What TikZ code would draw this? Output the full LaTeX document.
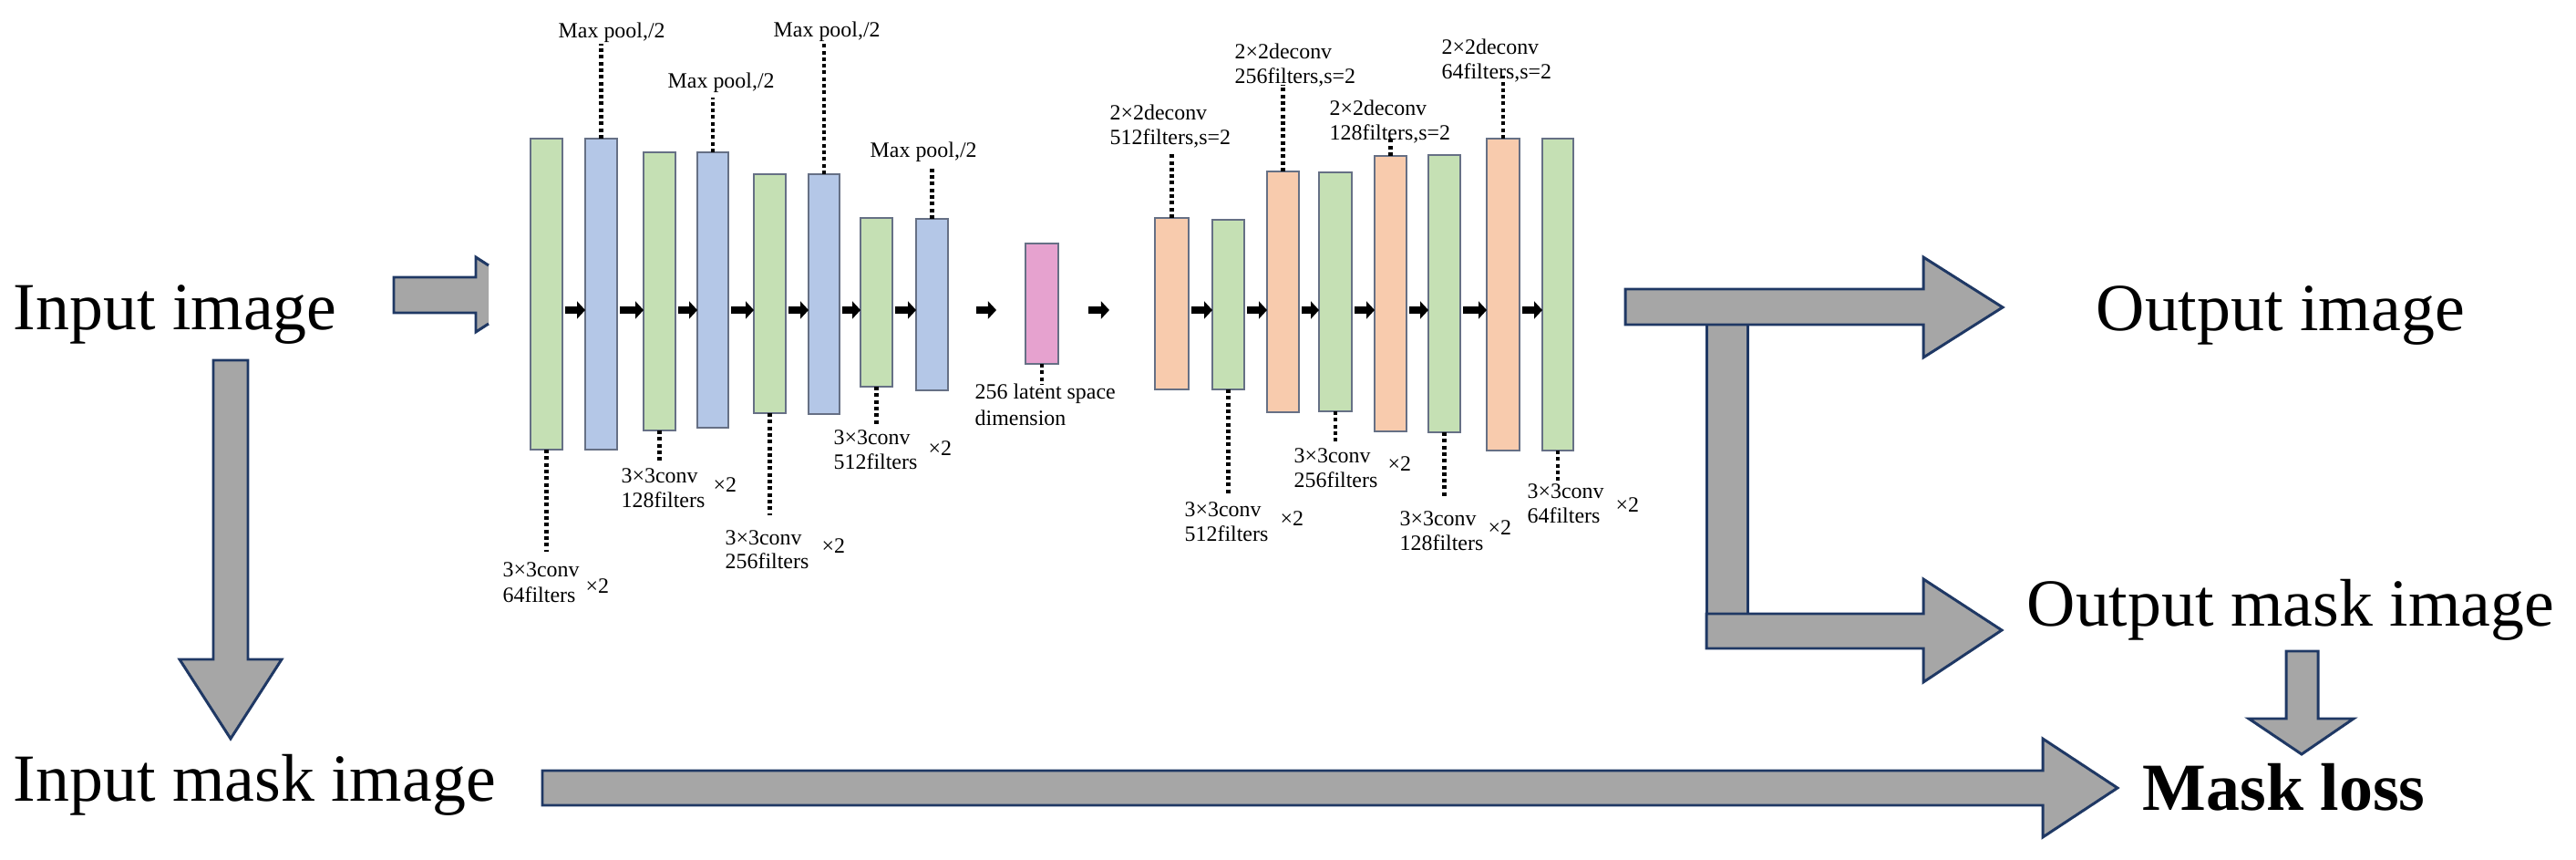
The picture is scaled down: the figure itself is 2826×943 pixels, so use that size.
\documentclass[tikz,border=0pt]{standalone}
\usepackage{fontspec}
\setmainfont{Liberation Serif}
\usetikzlibrary{fit,arrows.meta}
\definecolor{cgreen}{HTML}{C5E0B4}
\definecolor{cblue}{HTML}{B4C7E7}
\definecolor{corange}{HTML}{F8CBAD}
\definecolor{cpink}{HTML}{E6A2CF}
\definecolor{cbarline}{HTML}{667085}
\definecolor{carrfill}{HTML}{A6A6A6}
\definecolor{carrline}{HTML}{1F3864}
\tikzset{
 barsty/.style={draw=cbarline, line width=0.7pt, inner sep=0pt, outer sep=0pt},
 smallarr/.style={line width=0.085cm, -{Triangle[length=0.09cm,width=0.19cm]}, shorten <=0.03cm},
 dotsty/.style={line width=0.045cm, dash pattern=on 0.04cm off 0.033cm},
 bigarr/.style={fill=carrfill, draw=carrline, line width=0.85pt, line join=miter},
 lbl/.style={anchor=base west, inner sep=0pt, font=\fontsize{6.8}{8}\selectfont},
 bigtxt/.style={anchor=base west, inner sep=0pt, font=\fontsize{21}{25}\selectfont},
}
\newcommand{\convlbl}[6]{%
 \node[lbl] (#1a) at (#2,#3) {3×3conv};
 \node[lbl] (#1b) at (#2,#3+27) {#4};
 \node[lbl] (#1c) at (#5,#6) {×2};}
\newcommand{\deconvlbl}[4]{%
 \node[lbl] (#1a) at (#2,#3) {2×2deconv};
 \node[lbl] (#1b) at (#2,#3+27) {#4};}
\begin{document}
\begin{tikzpicture}[x=0.01cm,y=-0.01cm]
\useasboundingbox (0,0) rectangle (2826,943);
\fill[white] (0,0) rectangle (2826,943);

% main texts
\node[bigtxt] (inimg) at (14,362) {Input image};
\node[bigtxt] (inmask) at (14,879) {Input mask image};
\node[bigtxt] (outimg) at (2299,363) {Output image};
\node[bigtxt] (outmask) at (2223,686) {Output mask image};
\node[bigtxt, font=\fontsize{21}{25}\selectfont\bfseries] (mloss) at (2350,889) {Mask loss};

% big arrows
\fill[carrfill] (432,304) -- (522,304) -- (522,282) -- (536,291) -- (536,355) -- (522,364) -- (522,343) -- (432,343) -- cycle;
\draw[carrline, line width=0.85pt, line join=miter] (536,291) -- (522,282) -- (522,304) -- (432,304) -- (432,343) -- (522,343) -- (522,364) -- (536,355);
\draw[bigarr] (234,395) -- (272,395) -- (272,723) -- (309,723) -- (253,810) -- (197,723) -- (234,723) -- cycle;
\draw[bigarr] (595,845) -- (2241,845) -- (2241,810) -- (2323,864) -- (2241,918) -- (2241,883) -- (595,883) -- cycle;
\draw[bigarr] (1872,356) rectangle (1917,711);
\draw[bigarr] (1783,317) -- (2110,317) -- (2110,282) -- (2197,337) -- (2110,392) -- (2110,356) -- (1783,356) -- cycle;
\draw[bigarr] (1872,673) -- (2110,673) -- (2110,635) -- (2196,691) -- (2110,748) -- (2110,711) -- (1872,711) -- cycle;
\draw[bigarr] (2508,714) -- (2543,714) -- (2543,788) -- (2582,788) -- (2525,827) -- (2467,788) -- (2508,788) -- cycle;

% bars
\node[barsty, fill=cgreen, fit={(582,152)(617,493)}] (g1) {};
\node[barsty, fill=cblue, fit={(642,152)(677,493)}] (b1) {};
\node[barsty, fill=cgreen, fit={(706,167)(741,472)}] (g2) {};
\node[barsty, fill=cblue, fit={(765,167)(799,469)}] (b2) {};
\node[barsty, fill=cgreen, fit={(827,191)(862,453)}] (g3) {};
\node[barsty, fill=cblue, fit={(887,191)(921,454)}] (b3) {};
\node[barsty, fill=cgreen, fit={(944,239)(979,424)}] (g4) {};
\node[barsty, fill=cblue, fit={(1005,240)(1040,428)}] (b4) {};
\node[barsty, fill=cpink, fit={(1125,267)(1161,399)}] (pk) {};
\node[barsty, fill=corange, fit={(1267,239)(1304,427)}] (o1) {};
\node[barsty, fill=cgreen, fit={(1330,241)(1365,427)}] (d1) {};
\node[barsty, fill=corange, fit={(1390,188)(1425,452)}] (o2) {};
\node[barsty, fill=cgreen, fit={(1447,189)(1483,451)}] (d2) {};
\node[barsty, fill=corange, fit={(1508,171)(1543,473)}] (o3) {};
\node[barsty, fill=cgreen, fit={(1567,170)(1602,474)}] (d3) {};
\node[barsty, fill=corange, fit={(1631,152)(1667,494)}] (o4) {};
\node[barsty, fill=cgreen, fit={(1692,152)(1726,494)}] (d4) {};

% small arrows
\coordinate (ay) at (0,340);
\foreach \a/\b in {g1/b1,b1/g2,g2/b2,b2/g3,g3/b3,b3/g4,g4/b4,o1/d1,d1/o2,o2/d2,d2/o3,o3/d3,d3/o4,o4/d4}
  \draw[smallarr] (\a.east |- ay) -- (\b.west |- ay);
\draw[smallarr, shorten <=0.31cm, shorten >=0.32cm] (b4.east |- ay) -- (pk.west |- ay);
\draw[smallarr, shorten <=0.33cm, shorten >=0.50cm] (pk.east |- ay) -- (o1.west |- ay);

% dotted leader lines
\draw[dotsty] (b1.north) -- ++(0,-104);
\draw[dotsty] (b2.north) -- ++(0,-60);
\draw[dotsty] (b3.north) -- ++(0,-143);
\draw[dotsty] (b4.north) -- ++(0,-58);
\draw[dotsty] (g1.south) -- ++(0,112);
\draw[dotsty] (g2.south) -- ++(0,36);
\draw[dotsty] (g3.south) -- ++(0,112);
\draw[dotsty] (g4.south) -- ++(0,42);
\draw[dotsty] (pk.south) -- ++(0,23);
\draw[dotsty] (o1.north) -- ++(0,-72);
\draw[dotsty] (o2.north) -- ++(0,-95);
\draw[dotsty] (o3.north) -- ++(0,-19);
\draw[dotsty] (o4.north) -- ++(0,-69);
\draw[dotsty] (d1.south) -- ++(0,116);
\draw[dotsty] (d2.south) -- ++(0,36);
\draw[dotsty] (d3.south) -- ++(0,73);
\draw[dotsty] (d4.south) -- ++(0,33);

% small labels
\node[lbl] (mp1) at (612,42) {Max pool,/2};
\node[lbl] (mp2) at (732,97) {Max pool,/2};
\node[lbl] (mp3) at (848,41) {Max pool,/2};
\node[lbl] (mp4) at (954,173) {Max pool,/2};
\convlbl{la}{551}{633}{64filters}{642}{650}
\convlbl{lb}{681}{530}{128filters}{782}{540}
\convlbl{lc}{795}{597}{256filters}{901}{607}
\convlbl{ld}{914}{488}{512filters}{1018}{500}
\node[lbl] (lat1) at (1069,438) {256 latent space};
\node[lbl] (lat2) at (1069,467) {dimension};
\convlbl{le}{1299}{567}{512filters}{1404}{577}
\convlbl{lf}{1419}{508}{256filters}{1522}{517}
\convlbl{lg}{1535}{577}{128filters}{1632}{587}
\convlbl{lh}{1675}{547}{64filters}{1772}{562}
\deconvlbl{li}{1217}{132}{512filters,s=2}
\deconvlbl{lj}{1354}{65}{256filters,s=2}
\deconvlbl{lk}{1458}{127}{128filters,s=2}
\deconvlbl{ll}{1581}{60}{64filters,s=2}
\end{tikzpicture}
\end{document}
